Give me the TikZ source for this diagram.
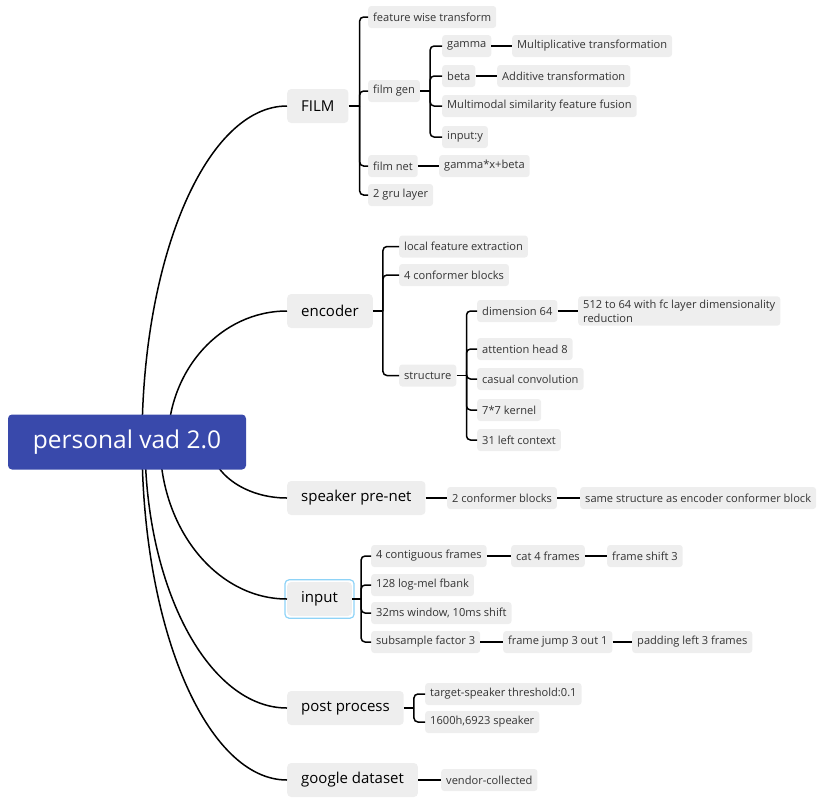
\documentclass[tikz,border=0pt]{standalone}
\usepackage{fontspec}
\setmainfont{Open Sans}
\usetikzlibrary{calc}

\definecolor{rootblue}{HTML}{3949AB}
\definecolor{boxgray}{HTML}{EEEEEE}
\definecolor{textgray}{HTML}{333333}
\definecolor{selblue}{HTML}{8ED3F7}

\tikzset{
	link/.style={line width=1.5pt, rounded corners=4pt},
	central/.style={fill=rootblue, text=white, rounded corners=4pt, minimum width=238pt, minimum height=55pt, font=\fontsize{24.5}{28}\selectfont},
	topic/.style={fill=boxgray, rounded corners=4pt, minimum height=34pt, inner xsep=14pt, anchor=west, font=\fontsize{15}{18}\selectfont},
	leaf/.style={fill=boxgray, rounded corners=3pt, minimum height=22pt, inner xsep=5pt, anchor=west, text=textgray, font=\fontsize{11.1}{14}\selectfont},
}

\begin{document}
\begin{tikzpicture}[x=1pt, y=-1pt]

	\useasboundingbox (0,0) rectangle (838,804);

	% main branches
	\node[topic] (film) at (287,106) {FILM};
	\node[topic] (encoder) at (287,311) {encoder};
	\node[topic] (speaker) at (287,498) {speaker pre-net};
	\node[topic] (input) at (287,599) {input};
	\node[topic] (post) at (287,708) {post process};
	\node[topic] (google) at (287,780) {google dataset};

	\draw[selblue, line width=1.2pt, rounded corners=4pt] ($(input.north west)+(-2,-2)$) rectangle ($(input.south east)+(2,2)$);

	\coordinate (rootc) at (127,442);

	\draw[link] ([xshift=15pt]rootc) .. controls +(0,-186) and +(-80,0) .. (film.west);
	\draw[link] ([xshift=41pt]rootc) .. controls +(0,-72) and +(-66,0) .. (encoder.west);
	\draw[link] ([xshift=83pt]rootc) .. controls +(0,31) and +(-42,0) .. (speaker.west);
	\draw[link] ([xshift=33pt]rootc) .. controls +(0,87) and +(-70,0) .. (input.west);
	\draw[link] ([xshift=18pt]rootc) .. controls +(0,147) and +(-78,0) .. (post.west);
	\draw[link] ([xshift=15pt]rootc) .. controls +(0,187) and +(-80,0) .. (google.west);

	\node[central] (root) at (rootc) {personal vad 2.0};

	% FILM
	\node[leaf] (fwt) at (368,17) {feature wise transform};
	\node[leaf] (filmgen) at (368,91) {film gen};
	\node[leaf] (gamma) at (442,46) {gamma};
	\node[leaf] (mult) at (512,46) {Multiplicative transformation};
	\node[leaf] (beta) at (442,76) {beta};
	\node[leaf] (additive) at (497,76) {Additive transformation};
	\node[leaf] (fusion) at (442,106) {Multimodal similarity feature fusion};
	\node[leaf] (inputy) at (442,137) {input:y};
	\node[leaf] (filmnet) at (368,166) {film net};
	\node[leaf] (gbx) at (439,166) {gamma*x+beta};
	\node[leaf] (gru) at (368,195) {2 gru layer};

	\draw[link] (film.east) -- ++(11,0) coordinate (filmj);
	\draw[link] (filmj) |- (fwt.west);
	\draw[link] (filmj) |- (filmgen.west);
	\draw[link] (filmj) |- (filmnet.west);
	\draw[link] (filmj) |- (gru.west);

	\draw[link] (filmgen.east) -- ++(10,0) coordinate (genj);
	\draw[link] (genj) |- (gamma.west);
	\draw[link] (genj) |- (beta.west);
	\draw[link] (genj) |- (fusion.west);
	\draw[link] (genj) |- (inputy.west);

	\draw[link] (gamma) -- (mult);
	\draw[link] (beta) -- (additive);
	\draw[link] (filmnet) -- (gbx);

	% encoder
	\node[leaf] (lfe) at (399,246.5) {local feature extraction};
	\node[leaf] (conf4) at (399,275) {4 conformer blocks};
	\node[leaf] (structure) at (399,375.5) {structure};
	\node[leaf] (dim64) at (477,311) {dimension 64};
	\node[leaf, align=left] (fc) at (578,311) {512 to 64 with fc layer dimensionality\\reduction};
	\node[leaf] (heads) at (477,349) {attention head 8};
	\node[leaf] (casual) at (477,379) {casual convolution};
	\node[leaf] (kernel) at (477,410) {7*7 kernel};
	\node[leaf] (context) at (477,440) {31 left context};

	\draw[link] (encoder.east) -- ++(10,0) coordinate (encj);
	\draw[link] (encj) |- (lfe.west);
	\draw[link] (encj) |- (conf4.west);
	\draw[link] (encj) |- (structure.west);

	\draw[link] (structure.east) -- ++(10,0) coordinate (strj);
	\draw[link] (strj) |- (dim64.west);
	\draw[link] (strj) |- (heads.west);
	\draw[link] (strj) |- (casual.west);
	\draw[link] (strj) |- (kernel.west);
	\draw[link] (strj) |- (context.west);

	\draw[link] (dim64) -- (fc);

	% speaker pre-net
	\node[leaf] (conf2) at (447,498) {2 conformer blocks};
	\node[leaf] (same) at (580,498) {same structure as encoder conformer block};

	\draw[link] (speaker) -- (conf2);
	\draw[link] (conf2) -- (same);

	% input
	\node[leaf] (frames) at (371,556) {4 contiguous frames};
	\node[leaf] (cat) at (511,556) {cat 4 frames};
	\node[leaf] (shift) at (607,556) {frame shift 3};
	\node[leaf] (fbank) at (371,585) {128 log-mel fbank};
	\node[leaf] (window) at (371,613) {32ms window, 10ms shift};
	\node[leaf] (subsample) at (371,642) {subsample factor 3};
	\node[leaf] (jump) at (503,642) {frame jump 3 out 1};
	\node[leaf] (padding) at (632,642) {padding left 3 frames};

	\draw[link] (input.east) -- ++(9,0) coordinate (inj);
	\draw[link] (inj) |- (frames.west);
	\draw[link] (inj) |- (fbank.west);
	\draw[link] (inj) |- (window.west);
	\draw[link] (inj) |- (subsample.west);

	\draw[link] (frames) -- (cat);
	\draw[link] (cat) -- (shift);
	\draw[link] (subsample) -- (jump);
	\draw[link] (jump) -- (padding);

	% post process
	\node[leaf] (threshold) at (425,694) {target-speaker threshold:0.1};
	\node[leaf] (hours) at (425,722) {1600h,6923 speaker};

	\draw[link] (post.east) -- ++(10,0) coordinate (postj);
	\draw[link] (postj) |- (threshold.west);
	\draw[link] (postj) |- (hours.west);

	% google dataset
	\node[leaf] (vendor) at (441,780) {vendor-collected};

	\draw[link] (google) -- (vendor);

\end{tikzpicture}
\end{document}
